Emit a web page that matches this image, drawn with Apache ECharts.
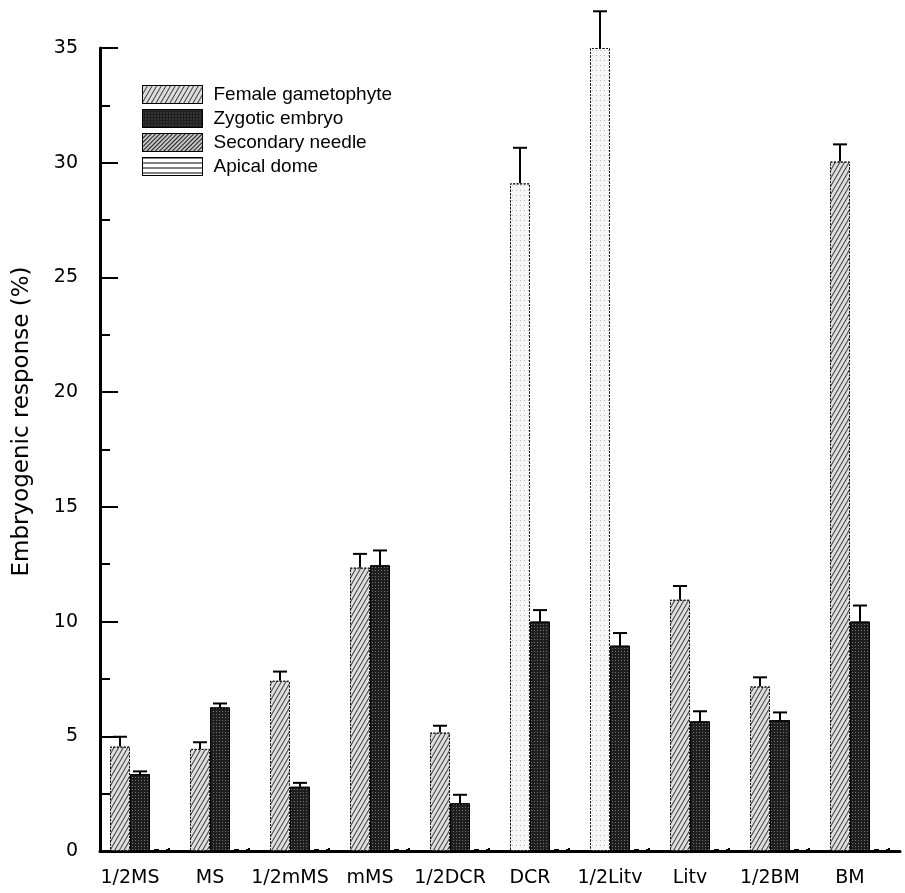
<!DOCTYPE html>
<html>
<head>
<meta charset="utf-8">
<title>Embryogenic response</title>
<script src="https://cdn.jsdelivr.net/npm/echarts@6/dist/echarts.min.js"></script>
<style>
  html, body { margin: 0; padding: 0; background: #ffffff; }
  #chart { width: 905px; height: 893px; }
</style>
</head>
<body>
<div id="chart"></div>
<script>
// Culture media (x categories)
const categories = ['1/2MS', 'MS', '1/2mMS', 'mMS', '1/2DCR', 'DCR', '1/2Litv', 'Litv', '1/2BM', 'BM'];

// Embryogenic response (%) per explant type, with standard errors
const femaleGametophyte   = [4.55, 4.45, 7.42, 12.35, 5.16, 29.1, 35.0, 10.95, 7.17, 30.05];
const femaleGametophyteSE = [0.43, 0.29, 0.40, 0.60, 0.30, 1.55, 1.60, 0.60, 0.40, 0.75];
const zygoticEmbryo       = [3.35, 6.26, 2.80, 12.45, 2.08, 10.0, 8.95, 5.65, 5.70, 10.0];
const zygoticEmbryoSE     = [0.12, 0.17, 0.17, 0.65, 0.37, 0.50, 0.55, 0.44, 0.34, 0.70];
const secondaryNeedle     = [0.2, 0.2, 0.2, 0.2, 0.2, 0.2, 0.2, 0.2, 0.2, 0.2];
const apicalDome          = [0.2, 0.2, 0.2, 0.2, 0.2, 0.2, 0.2, 0.2, 0.2, 0.2];

// Y axis ticks
const yMin = 0, yMax = 35, yInterval = 5;

// Media whose female gametophyte bar is drawn with the pale stipple
const paleFemale = ['DCR', '1/2Litv'];

// ---- styling ----
const FONT_AXIS = 'DejaVu Sans';
const FONT_LEGEND = 'Liberation Sans';
const BAR_W = [20, 20, 10, 10];      // female, zygotic, needle, dome
const CAP = 14;

const hatchFemale = {
  symbol: 'rect', symbolSize: 1, color: 'rgba(0,0,0,0.72)',
  dashArrayX: [1, 0], dashArrayY: [1, 2.2], rotation: -Math.PI / 3
};
const stipplePale = {
  symbol: 'rect', symbolSize: 1, color: 'rgba(0,0,0,0.25)',
  dashArrayX: [1, 3], dashArrayY: [1, 4], rotation: 0
};
const stippleDark = {
  symbol: 'rect', symbolSize: 1, color: 'rgba(255,255,255,0.38)',
  dashArrayX: [1, 2], dashArrayY: [1, 2], rotation: 0
};
const hatchNeedle = {
  symbol: 'rect', symbolSize: 1, color: 'rgba(0,0,0,0.85)',
  dashArrayX: [1, 0], dashArrayY: [1, 1.6], rotation: -Math.PI / 4
};
const linesDome = {
  symbol: 'rect', symbolSize: 1, color: '#000',
  dashArrayX: [1, 0], dashArrayY: [1, 3.4], rotation: 0
};

// offsets of bar centres from the category centre
const groupW = BAR_W.reduce((a, b) => a + b, 0);
const barCenter = BAR_W.map((w, k) => -groupW / 2 + BAR_W.slice(0, k).reduce((a, b) => a + b, 0) + w / 2);

function errorBars(name, values, errors, offset) {
  return {
    type: 'custom',
    name: name,
    silent: true,
    z: 5,
    clip: false,
    data: values.map((v, i) => [i, v, errors[i]]),
    encode: { x: 0, y: 1 },
    renderItem: function (params, api) {
      const i = api.value(0);
      const top = api.coord([i, api.value(1)]);
      const end = api.coord([i, api.value(1) + api.value(2)]);
      const x = top[0] + offset;
      const st = { stroke: '#000', lineWidth: 2 };
      return {
        type: 'group',
        children: [
          { type: 'line', shape: { x1: x, y1: top[1], x2: x, y2: end[1] }, style: st },
          { type: 'line', shape: { x1: x - CAP / 2, y1: end[1], x2: x + CAP / 2, y2: end[1] }, style: st }
        ]
      };
    }
  };
}

const femaleData = femaleGametophyte.map((v, i) =>
  paleFemale.indexOf(categories[i]) >= 0
    ? { value: v, itemStyle: { color: '#f6f6f6', decal: stipplePale } }
    : v
);

const chart = echarts.init(document.getElementById('chart'), null, { renderer: 'canvas' });

chart.setOption({
  animation: false,
  backgroundColor: '#ffffff',
  grid: { left: 100, right: 5, top: 48, bottom: 42, outerBoundsMode: 'none', containLabel: false },
  legend: {
    orient: 'vertical',
    left: 137,
    top: 80,
    icon: 'rect',
    itemWidth: 60,
    itemHeight: 18,
    itemGap: 5,
    selectedMode: false,
    textStyle: { fontFamily: FONT_LEGEND, fontSize: 19, color: '#000', padding: [0, 0, 0, 6] },
    data: [
      { name: 'Female gametophyte', itemStyle: { color: '#dedede', decal: hatchFemale, borderColor: '#000', borderWidth: 1, borderType: 'solid' } },
      { name: 'Zygotic embryo', itemStyle: { color: '#1e1e1e', decal: stippleDark, borderColor: '#000', borderWidth: 1, borderType: 'solid' } },
      { name: 'Secondary needle', itemStyle: { color: '#c4c4c4', decal: hatchNeedle, borderColor: '#000', borderWidth: 1, borderType: 'solid' } },
      { name: 'Apical dome', itemStyle: { color: '#ffffff', decal: linesDome, borderColor: '#000', borderWidth: 1, borderType: 'solid' } }
    ]
  },
  xAxis: {
    type: 'category',
    data: categories,
    axisLine: { show: true, lineStyle: { color: '#000', width: 3 } },
    axisTick: { show: false },
    splitLine: { show: false },
    axisLabel: {
      color: '#000', fontFamily: FONT_AXIS, fontSize: 19, margin: 18,
      padding: [0, 20, 0, 0], interval: 0
    }
  },
  yAxis: {
    type: 'value',
    min: yMin, max: yMax, interval: yInterval,
    name: 'Embryogenic response (%)',
    nameLocation: 'middle',
    nameGap: 66,
    nameTextStyle: { color: '#000', fontFamily: FONT_AXIS, fontSize: 23, padding: [0, 0, 0, 56] },
    axisLine: { show: true, lineStyle: { color: '#000', width: 3 } },
    axisTick: { show: true, inside: true, length: 18, lineStyle: { color: '#000', width: 2 } },
    minorTick: { show: true, splitNumber: 2, length: 10, lineStyle: { color: '#000', width: 2 } },
    splitLine: { show: false },
    minorSplitLine: { show: false },
    axisLabel: { color: '#000', fontFamily: FONT_AXIS, fontSize: 19, margin: 22 }
  },
  series: [
    {
      name: 'Female gametophyte', type: 'bar', barWidth: BAR_W[0], barGap: '0%',
      itemStyle: { color: '#dedede', decal: hatchFemale, borderColor: '#111', borderWidth: 1, borderType: [2, 1.5] },
      data: femaleData
    },
    {
      name: 'Zygotic embryo', type: 'bar', barWidth: BAR_W[1], barGap: '0%',
      itemStyle: { color: '#1e1e1e', decal: stippleDark, borderColor: '#000', borderWidth: 1 },
      data: zygoticEmbryo
    },
    {
      name: 'Secondary needle', type: 'bar', barWidth: BAR_W[2], barGap: '0%',
      itemStyle: { color: 'rgba(0,0,0,0)', borderColor: '#000', borderWidth: 2, borderType: [5, 20], borderDashOffset: 22 },
      data: secondaryNeedle
    },
    {
      name: 'Apical dome', type: 'bar', barWidth: BAR_W[3], barGap: '0%',
      itemStyle: { color: 'rgba(0,0,0,0)', borderColor: '#000', borderWidth: 2, borderType: [5, 20], borderDashOffset: 20 },
      data: apicalDome
    },
    errorBars('Female gametophyte SE', femaleGametophyte, femaleGametophyteSE, barCenter[0]),
    errorBars('Zygotic embryo SE', zygoticEmbryo, zygoticEmbryoSE, barCenter[1])
  ]
});
</script>
</body>
</html>
